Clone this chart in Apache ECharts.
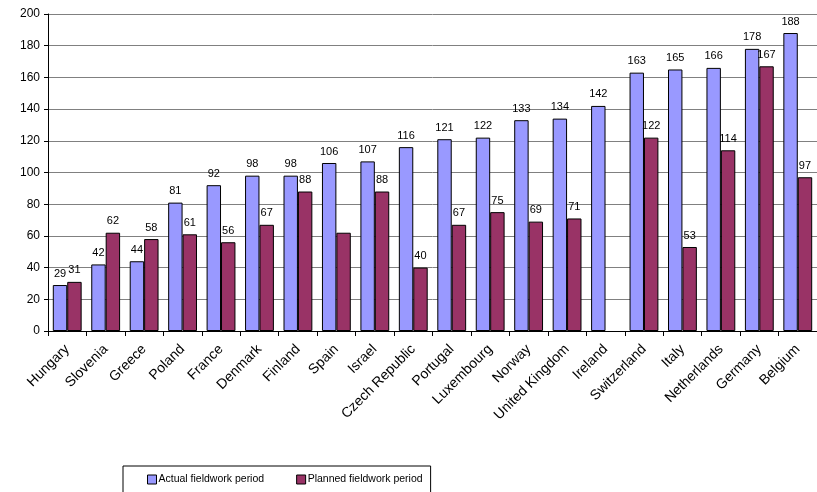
<!DOCTYPE html>
<html>
<head>
<meta charset="utf-8">
<script src="https://cdn.jsdelivr.net/npm/echarts@6/dist/echarts.min.js"></script>
<style>
  html, body { margin: 0; padding: 0; background: #fff; }
  #chart { width: 817px; height: 492px; }
</style>
</head>
<body>
<div id="chart"></div>
<script>
const countries = ['Hungary', 'Slovenia', 'Greece', 'Poland', 'France', 'Denmark', 'Finland', 'Spain', 'Israel',
  'Czech Republic', 'Portugal', 'Luxembourg', 'Norway', 'United Kingdom', 'Ireland', 'Switzerland', 'Italy',
  'Netherlands', 'Germany', 'Belgium']
const actual = [29, 42, 44, 81, 92, 98, 98, 106, 107, 116, 121, 122, 133, 134, 142, 163, 165, 166, 178, 188]
const planned = [31, 62, 58, 61, 56, 67, 88, 62, 88, 40, 67, 75, 69, 71, null, 122, 53, 114, 167, 97]
// Spain's planned bar has no label in the original
const plannedNoLabel = ['Spain']

const font = 'Liberation Sans, Arial, sans-serif'
const chart = echarts.init(document.getElementById('chart'))

const barLabel = {
  show: true,
  position: 'top',
  distance: 6,
  color: '#000',
  fontSize: 11,
  fontFamily: font
}

chart.setOption({
  animation: false,
  grid: { left: 48, right: -5, top: 14, bottom: 161 },
  legend: {
    left: 123,
    top: 466,
    padding: [8, 8, 12, 24],
    itemGap: 32,
    itemWidth: 9,
    itemHeight: 9,
    icon: 'rect',
    borderColor: '#000',
    borderWidth: 1,
    textStyle: { color: '#000', fontSize: 10.5, fontFamily: font, padding: [0, 0, 0, -3] },
    data: [
      { name: 'Actual fieldwork period', itemStyle: { borderColor: '#000', borderWidth: 1 } },
      { name: 'Planned fieldwork period', itemStyle: { borderColor: '#000', borderWidth: 1 } }
    ]
  },
  xAxis: {
    type: 'category',
    data: countries,
    axisLine: { lineStyle: { color: '#000', width: 1 } },
    axisTick: { show: true, alignWithLabel: false, length: 5, lineStyle: { color: '#000' } },
    axisLabel: {
      interval: 0,
      rotate: 45,
      margin: 16,
      color: '#000',
      fontSize: 14,
      fontFamily: font
    }
  },
  yAxis: {
    type: 'value',
    min: 0,
    max: 200,
    interval: 20,
    axisLine: { show: true, lineStyle: { color: '#000', width: 1 } },
    axisTick: { show: true, length: 4, lineStyle: { color: '#000' } },
    axisLabel: { color: '#000', fontSize: 12, fontFamily: font, margin: 8 },
    splitLine: { lineStyle: { color: '#808080', width: 1 } }
  },
  series: [
    {
      name: 'Actual fieldwork period',
      type: 'bar',
      data: actual,
      barGap: '0%',
      barCategoryGap: '25%',
      itemStyle: { color: '#9999FF', borderColor: '#000', borderWidth: 1 },
      label: barLabel
    },
    {
      name: 'Planned fieldwork period',
      type: 'bar',
      data: planned.map((v, i) => plannedNoLabel.includes(countries[i])
        ? { value: v, label: { show: false } }
        : v),
      barGap: '0%',
      barCategoryGap: '25%',
      itemStyle: { color: '#993366', borderColor: '#000', borderWidth: 1 },
      label: barLabel
    }
  ]
})
</script>
</body>
</html>
